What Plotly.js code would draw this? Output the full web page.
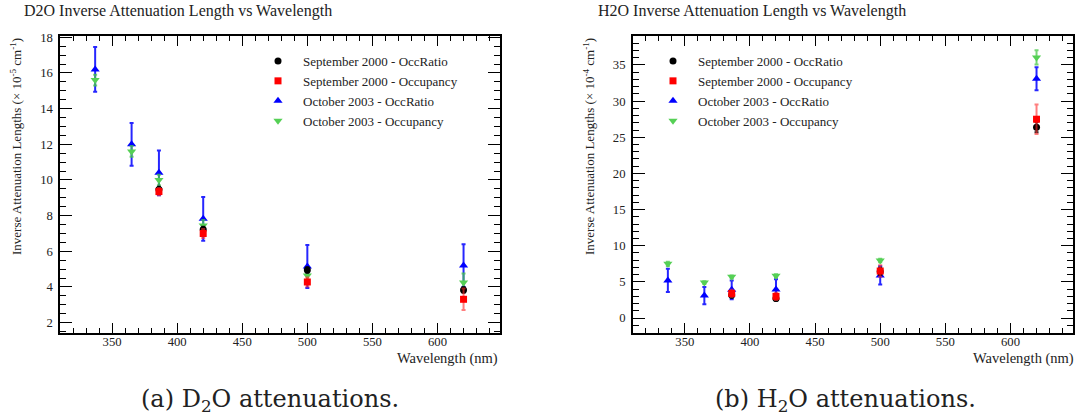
<!DOCTYPE html>
<html>
<head>
<meta charset="utf-8">
<script src="https://cdn.plot.ly/plotly-3.0.1.min.js"></script>
<style>html,body{margin:0;padding:0;background:#fff;}#chart{width:1079px;height:419px;}</style>
</head>
<body>
<div id="chart"></div>
<script>
// ---- data ----
var wavelengths = [337, 365, 386, 420, 500, 620];
var wavelengthsSep = [386, 420, 500, 620];
var seriesNames = ["September 2000 - OccRatio", "September 2000 - Occupancy", "October 2003 - OccRatio", "October 2003 - Occupancy"];

// D2O (x 10^-5 cm^-1)
var d2oSepOccRatio = [9.47, 7.23, 4.95, 3.83];
var d2oSepOccRatioErr = [0.15, 0.15, 0.15, 0.15];
var d2oSepOccupancy = [9.35, 7.0, 4.28, 3.31];
var d2oSepOccupancyErr = [0.2, 0.25, 0.25, 0.6];
var d2oOctOccRatio = [16.2, 12.0, 10.4, 7.82, 5.15, 5.2];
var d2oOctOccRatioErr = [1.25, 1.2, 1.25, 1.23, 1.2, 1.2];
var d2oOctOccupancy = [15.6, 11.6, 10.0, 7.45, 4.65, 4.25];
var d2oOctOccupancyErr = [0.3, 0.3, 0.3, 0.3, 0.3, 0.5];

// H2O (x 10^-4 cm^-1)
var h2oSepOccRatio = [3.2, 2.7, 6.45, 26.4];
var h2oSepOccRatioErr = [0.4, 0.3, 0.5, 0.7];
var h2oSepOccupancy = [3.4, 3.0, 6.5, 27.5];
var h2oSepOccupancyErr = [0.5, 0.5, 0.8, 2.05];
var h2oOctOccRatio = [5.2, 3.1, 3.9, 3.95, 5.9, 33.1];
var h2oOctOccRatioErr = [1.6, 1.2, 1.3, 1.4, 1.25, 1.6];
var h2oOctOccupancy = [7.5, 4.9, 5.7, 5.85, 7.95, 36.05];
var h2oOctOccupancyErr = [0.3, 0.2, 0.2, 0.2, 0.25, 1.0];

var titles = ["D2O Inverse Attenuation Length vs Wavelength", "H2O Inverse Attenuation Length vs Wavelength"];
var yTitles = ["Inverse Attenuation Lengths (\u00d7 10<sup>-5</sup> cm<sup>-1</sup>)", "Inverse Attenuation Lengths (\u00d7 10<sup>-4</sup> cm<sup>-1</sup>)"];
var xTitle = "Wavelength (nm)";
var captions = ["(a) D<sub>2</sub>O attenuations.", "(b) H<sub>2</sub>O attenuations."];

// ---- styling ----
var SERIF = "Liberation Serif";
var W = 1079, H = 419;
var styles = [
  {symbol: "circle", color: "#000000", err: "rgba(0,0,0,0.85)", size: 7},
  {symbol: "square", color: "#ff0000", err: "rgba(255,40,40,0.6)", size: 7},
  {symbol: "triangle-up", color: "#0000ff", err: "rgba(0,0,255,0.85)", size: 8},
  {symbol: "triangle-down", color: "#55d055", err: "rgba(70,200,70,0.75)", size: 8}
];
function mk(x, y, e, si, xa, ya, leg) {
  var s = styles[si];
  return {
    type: "scatter", mode: "markers", x: x, y: y, name: seriesNames[si],
    xaxis: xa, yaxis: ya, legend: leg,
    marker: {symbol: s.symbol, color: s.color, size: s.size, line: {width: 0}},
    error_y: {type: "data", array: e, visible: true, color: s.err, thickness: 2, width: 2},
    cliponaxis: false
  };
}
var traces = [];
var d2o = [[wavelengthsSep, d2oSepOccRatio, d2oSepOccRatioErr], [wavelengthsSep, d2oSepOccupancy, d2oSepOccupancyErr], [wavelengths, d2oOctOccRatio, d2oOctOccRatioErr], [wavelengths, d2oOctOccupancy, d2oOctOccupancyErr]];
var h2o = [[wavelengthsSep, h2oSepOccRatio, h2oSepOccRatioErr], [wavelengthsSep, h2oSepOccupancy, h2oSepOccupancyErr], [wavelengths, h2oOctOccRatio, h2oOctOccRatioErr], [wavelengths, h2oOctOccupancy, h2oOctOccupancyErr]];
[2, 3, 0, 1].forEach(function (i) {
  var t = mk(d2o[i][0], d2o[i][1], d2o[i][2], i, "x", "y", "legend"); t.legendrank = i + 1; traces.push(t);
});
[2, 3, 0, 1].forEach(function (i) {
  var t = mk(h2o[i][0], h2o[i][1], h2o[i][2], i, "x2", "y2", "legend2"); t.legendrank = i + 1; traces.push(t);
});

function px(v) { return v / W; }
function py(v) { return 1 - v / H; }

function xax(dom, anchor) {
  return {
    domain: dom, anchor: anchor, range: [310, 648], autorange: false,
    showgrid: false, zeroline: false, showline: true, linecolor: "#000", linewidth: 1.6, mirror: "allticks",
    ticks: "inside", ticklen: 10, tickwidth: 1, tickcolor: "#000", tick0: 0, dtick: 50,
    minor: {ticks: "inside", ticklen: 5, tickwidth: 1, tickcolor: "#000", dtick: 10, showgrid: false},
    tickfont: {family: SERIF, size: 12.7, color: "#222"}, ticklabelstandoff: -4
  };
}
function yax(dom, anchor, range, dtick, mdtick) {
  return {
    domain: dom, anchor: anchor, range: range, autorange: false,
    showgrid: false, zeroline: false, showline: true, linecolor: "#000", linewidth: 1.6, mirror: "allticks",
    ticks: "inside", ticklen: 12, tickwidth: 1, tickcolor: "#000", tick0: 0, dtick: dtick,
    minor: {ticks: "inside", ticklen: 6, tickwidth: 1, tickcolor: "#000", dtick: mdtick, showgrid: false},
    tickfont: {family: SERIF, size: 12.7, color: "#222"}, ticklabelstandoff: 3
  };
}
var yDom = [py(333), py(35.7)];
var frames = [[60, 500], [632.7, 1073]];

var annotations = [];
function ann(text, x, y, xa, ya, font, extra) {
  var a = {text: text, x: px(x), y: py(y), xref: "paper", yref: "paper", xanchor: xa, yanchor: ya, showarrow: false, font: font};
  for (var k in extra) a[k] = extra[k];
  annotations.push(a);
}
ann(titles[0], 21.5, 11, "left", "middle", {family: SERIF, size: 16, color: "#222"});
ann(titles[1], 596, 11, "left", "middle", {family: SERIF, size: 16, color: "#222"});
ann(yTitles[0], 16, 147, "center", "middle", {family: SERIF, size: 13, color: "#222"}, {textangle: -90});
ann(yTitles[1], 589, 147, "center", "middle", {family: SERIF, size: 13, color: "#222"}, {textangle: -90});
ann(xTitle, frames[0][1], 358, "right", "middle", {family: SERIF, size: 14.5, color: "#222"});
ann(xTitle, frames[1][1] + 3, 358, "right", "middle", {family: SERIF, size: 14.5, color: "#222"});
ann(captions[0], 270, 400, "center", "middle", {family: "DejaVu Serif", size: 24, color: "#222"});
ann(captions[1], 845, 400, "center", "middle", {family: "DejaVu Serif", size: 24, color: "#222"});

function leg(x, y) {
  return {
    bgcolor: "rgba(0,0,0,0)", borderwidth: 0, font: {family: SERIF, size: 13, color: "#222"},
    xanchor: "left", yanchor: "top", traceorder: "normal", itemwidth: 40,
    x: px(x), y: py(y)
  };
}

var layout = {
  width: W, height: H, margin: {l: 0, r: 0, t: 0, b: 0}, paper_bgcolor: "#fff", plot_bgcolor: "#fff",
  font: {family: SERIF, color: "#222"},
  showlegend: true,
  xaxis: xax([px(frames[0][0]), px(frames[0][1])], "y"),
  yaxis: yax(yDom, "x", [1.42, 18.09], 2, 0.5),
  xaxis2: xax([px(frames[1][0]), px(frames[1][1])], "y2"),
  yaxis2: yax(yDom, "x2", [-2.07, 39.05], 5, 1),
  legend: leg(253, 46),
  legend2: leg(648, 46),
  annotations: annotations
};
Plotly.newPlot("chart", traces, layout, {staticPlot: true, displayModeBar: false});
</script>
</body>
</html>
